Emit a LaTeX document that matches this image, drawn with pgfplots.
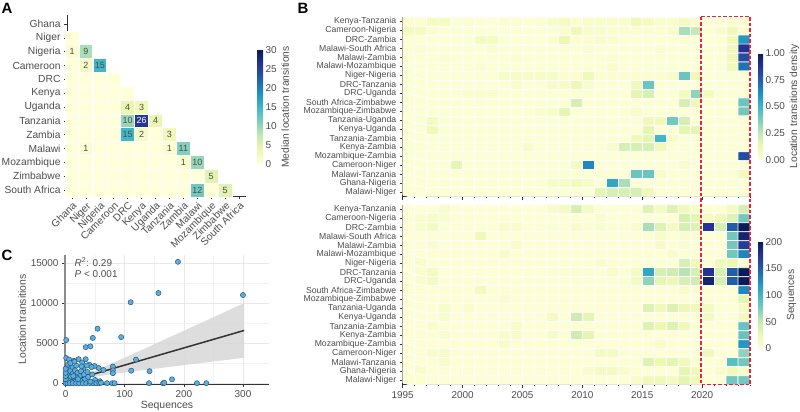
\documentclass[border=0pt]{standalone}
\usepackage{pgfplots}
\pgfplotsset{compat=1.18}
\usepackage{fontspec}
\setmainfont{Liberation Sans}
\definecolor{txt}{HTML}{4D4D4D}
\definecolor{axl}{HTML}{333333}
\definecolor{ptc}{HTML}{5AAEE0}
\definecolor{ptedge}{HTML}{22506F}
\definecolor{boxred}{HTML}{E8243C}
\pgfplotsset{
  colorbar shift/.style={},
  colormap={ylgnbu}{rgb255=(255,255,217) rgb255=(237,248,177) rgb255=(199,233,180) rgb255=(127,205,187) rgb255=(65,182,196) rgb255=(29,145,192) rgb255=(34,94,168) rgb255=(37,52,148) rgb255=(8,29,88)},
  base/.style={scale only axis, anchor=south west,
    /pgf/number format/assume math mode=true,
    tick align=outside,
    axis line style={axl, line width=0.6bp, -},
    tick style={axl, line width=0.6bp},
    major tick length=3bp, minor tick length=1.8bp,
    ticklabel style={font=\fontsize{10}{11}\selectfont, text=txt},
    label style={font=\fontsize{10.5}{12}\selectfont, text=txt},
    colormap name=ylgnbu},
  cbar/.style={colorbar, colorbar style={at={(parent axis.south east)}, anchor=south west,
    scale only axis, /pgf/number format/assume math mode=true,
    axis line style={draw=none}, ytick style={draw=none},
    yticklabel style={font=\fontsize{10}{11}\selectfont, text=txt, xshift=-1bp},
    ylabel style={font=\fontsize{10.3}{12}\selectfont, text=txt, yshift=2bp}}},
  prows/.style={ytick={0,...,19}, yticklabel style={font=\fontsize{8.7}{9}\selectfont},
    yticklabels={Malawi-Niger,Ghana-Nigeria,Malawi-Tanzania,Cameroon-Niger,Mozambique-Zambia,Kenya-Zambia,Tanzania-Zambia,Kenya-Uganda,Tanzania-Uganda,Mozambique-Zimbabwe,South Africa-Zimbabwe,DRC-Uganda,DRC-Tanzania,Niger-Nigeria,Malawi-Mozambique,Malawi-Zambia,Malawi-South Africa,DRC-Zambia,Cameroon-Nigeria,Kenya-Tanzania}},
  heat/.style={matrix plot*, mesh/cols=29, point meta=explicit, shader=faceted, faceted color=white, draw=white, line width=0.7bp}
}
\begin{document}
\begin{tikzpicture}
\useasboundingbox (0,0) rectangle (800bp,412bp);
% ---------------- Panel A ----------------
\begin{axis}[base, at={(67bp,216bp)}, width=179bp, height=181bp,
  xmin=-0.36, xmax=12.5, ymin=-0.43, ymax=12.65,
  axis x line*=bottom, axis y line*=left,
  xtick={0,...,12}, ytick={0,...,12},
  ticklabel style={font=\fontsize{10.3}{11}\selectfont},
  xticklabels={Ghana,Niger,Nigeria,Cameroon,DRC,Kenya,Uganda,Tanzania,Zambia,Malawi,Mozambique,Zimbabwe,South Africa},
  yticklabels={South Africa,Zimbabwe,Mozambique,Malawi,Zambia,Tanzania,Uganda,Kenya,DRC,Cameroon,Nigeria,Niger,Ghana},
  xticklabel style={rotate=45, anchor=north east, inner sep=1.5bp},
  point meta min=0, point meta max=30,
  cbar, colorbar style={xshift=11bp, yshift=32bp, width=6bp, height=114bp, ytick={0,5,...,30}, ylabel={Median location transitions}}]
\addplot[scatter, only marks, mark=square*, mark size=6.9bp, point meta=explicit,
  scatter/use mapped color={draw=white, fill=mapped color}, mark options={line width=0.8bp}]
  table[meta=v] {
x y v
0 11 0
0 10 1
1 10 9
0 9 0
1 9 2
2 9 15
0 8 0
1 8 0
2 8 0
3 8 0
0 7 0
1 7 0
2 7 0
3 7 0
4 7 0
0 6 0
1 6 0
2 6 0
3 6 0
4 6 4
5 6 3
0 5 0
1 5 0
2 5 0
3 5 0
4 5 10
5 5 26
6 5 4
0 4 0
1 4 0
2 4 0
3 4 0
4 4 15
5 4 2
6 4 0
7 4 3
0 3 0
1 3 1
2 3 0
3 3 0
4 3 0
5 3 0
6 3 0
7 3 1
8 3 11
0 2 0
1 2 0
2 2 0
3 2 0
4 2 0
5 2 0
6 2 0
7 2 0
8 2 1
9 2 10
0 1 0
1 1 0
2 1 0
3 1 0
4 1 0
5 1 0
6 1 0
7 1 0
8 1 0
9 1 0
10 1 5
0 0 0
1 0 0
2 0 0
3 0 0
4 0 0
5 0 0
6 0 0
7 0 0
8 0 0
9 0 12
10 0 0
11 0 5
};
\addplot[draw=none, mark=none, nodes near coords, point meta=explicit symbolic,
  every node near coord/.append style={anchor=center, font=\fontsize{9}{10}\selectfont, text=txt, inner sep=0pt}]
  coordinates {(0,10)[1] (1,10)[9] (1,9)[2] (2,9)[15] (4,6)[4] (5,6)[3] (4,5)[10] (6,5)[4]
  (4,4)[15] (5,4)[2] (7,4)[3] (1,3)[1] (7,3)[1] (8,3)[11] (8,2)[1] (9,2)[10] (10,1)[5] (9,0)[12] (11,0)[5]};
\addplot[draw=none, mark=none, nodes near coords, point meta=explicit symbolic,
  every node near coord/.append style={anchor=center, font=\fontsize{9}{10}\selectfont, text=white, inner sep=0pt}]
  coordinates {(5,5)[26]};
\end{axis}
% ---------------- Panel B top ----------------
\begin{axis}[base, at={(402.7bp,215.3bp)}, width=347.3bp, height=179.5bp,
  xmin=1995, xmax=2024, ymin=-0.5, ymax=19.5,
  axis x line*=bottom, axis y line*=left, prows,
  xtick={1995,2000,...,2020}, minor xtick={1995,...,2024}, xticklabels={},
  point meta min=0, point meta max=1,
  cbar, colorbar style={xshift=8bp, yshift=36.7bp, width=5bp, height=107bp, ytick={0,0.25,0.5,0.75,1},
    yticklabel style={/pgf/number format/fixed, /pgf/number format/fixed zerofill, /pgf/number format/precision=2},
    ylabel={Location transitions density}}]
\addplot[heat] table[row sep=\\, header=false, x expr={1995.5+mod(\coordindex,29)}, y expr={19-floor(\coordindex/29)}, meta index=0] {
0.03\\0.03\\0.08\\0.08\\0.02\\0.03\\0.02\\0.02\\0.03\\0.03\\0.02\\0.03\\0.05\\0.08\\0.03\\0.05\\0.05\\0.05\\0.04\\0.1\\0.08\\0.04\\0.04\\0.08\\0.03\\0.02\\0.02\\0.03\\0.03\\
0.08\\0.08\\0.03\\0.02\\0.02\\0.02\\0.02\\0.02\\0.02\\0.02\\0.02\\0.02\\0.02\\0.03\\0.1\\0.05\\0.05\\0.03\\0.03\\0.03\\0.03\\0.03\\0.05\\0.3\\0.25\\0.02\\0.04\\0.1\\0.03\\
0.02\\0.02\\0.02\\0.02\\0.02\\0.02\\0.08\\0.08\\0.02\\0.02\\0.02\\0.02\\0.03\\0.12\\0.03\\0.03\\0.05\\0.03\\0.02\\0.02\\0.02\\0.02\\0.02\\0.03\\0.02\\0.02\\0.02\\0.1\\0.6\\
0.02\\0.03\\0.02\\0.02\\0.02\\0.02\\0.02\\0.03\\0.02\\0.02\\0.02\\0.02\\0.02\\0.02\\0.02\\0.03\\0.02\\0.02\\0.02\\0.02\\0.02\\0.03\\0.02\\0.02\\0.02\\0.02\\0.02\\0.1\\0.88\\
0.02\\0.02\\0.02\\0.03\\0.02\\0.02\\0.02\\0.02\\0.02\\0.03\\0.02\\0.02\\0.02\\0.02\\0.02\\0.02\\0.02\\0.03\\0.02\\0.02\\0.02\\0.02\\0.02\\0.02\\0.02\\0.02\\0.02\\0.1\\0.8\\
0.02\\0.02\\0.02\\0.02\\0.02\\0.02\\0.03\\0.02\\0.02\\0.02\\0.02\\0.02\\0.02\\0.02\\0.02\\0.02\\0.02\\0.05\\0.02\\0.02\\0.02\\0.02\\0.02\\0.02\\0.02\\0.02\\0.02\\0.1\\0.7\\
0.02\\0.02\\0.02\\0.02\\0.02\\0.02\\0.02\\0.02\\0.06\\0.06\\0.06\\0.06\\0.06\\0.03\\0.03\\0.1\\0.03\\0.03\\0.03\\0.03\\0.03\\0.03\\0.05\\0.42\\0.1\\0.02\\0.02\\0.02\\0.02\\
0.02\\0.02\\0.02\\0.02\\0.02\\0.02\\0.02\\0.02\\0.02\\0.05\\0.02\\0.02\\0.06\\0.06\\0.12\\0.05\\0.02\\0.02\\0.02\\0.1\\0.42\\0.02\\0.02\\0.02\\0.02\\0.02\\0.02\\0.02\\0.02\\
0.02\\0.02\\0.02\\0.02\\0.02\\0.04\\0.04\\0.04\\0.02\\0.02\\0.02\\0.02\\0.02\\0.02\\0.02\\0.02\\0.02\\0.02\\0.02\\0.15\\0.2\\0.02\\0.02\\0.08\\0.35\\0.08\\0.02\\0.02\\0.02\\
0.02\\0.02\\0.02\\0.02\\0.02\\0.02\\0.02\\0.02\\0.02\\0.02\\0.02\\0.02\\0.02\\0.02\\0.2\\0.02\\0.02\\0.02\\0.02\\0.02\\0.02\\0.02\\0.02\\0.2\\0.1\\0.02\\0.02\\0.02\\0.42\\
0.02\\0.02\\0.02\\0.02\\0.02\\0.02\\0.02\\0.02\\0.02\\0.02\\0.02\\0.04\\0.05\\0.15\\0.02\\0.02\\0.02\\0.02\\0.02\\0.05\\0.02\\0.02\\0.02\\0.02\\0.02\\0.02\\0.02\\0.02\\0.4\\
0.02\\0.02\\0.08\\0.02\\0.02\\0.02\\0.02\\0.02\\0.02\\0.02\\0.02\\0.02\\0.02\\0.02\\0.02\\0.02\\0.02\\0.02\\0.02\\0.02\\0.1\\0.1\\0.4\\0.2\\0.02\\0.02\\0.02\\0.02\\0.02\\
0.02\\0.02\\0.1\\0.02\\0.02\\0.02\\0.02\\0.02\\0.02\\0.02\\0.02\\0.02\\0.02\\0.02\\0.02\\0.02\\0.02\\0.02\\0.02\\0.02\\0.15\\0.02\\0.02\\0.15\\0.15\\0.02\\0.02\\0.02\\0.02\\
0.02\\0.02\\0.02\\0.02\\0.02\\0.02\\0.02\\0.02\\0.02\\0.02\\0.02\\0.02\\0.02\\0.02\\0.02\\0.02\\0.02\\0.02\\0.02\\0.1\\0.15\\0.5\\0.05\\0.02\\0.02\\0.02\\0.02\\0.02\\0.02\\
0.02\\0.02\\0.02\\0.02\\0.02\\0.02\\0.02\\0.02\\0.02\\0.02\\0.05\\0.02\\0.02\\0.02\\0.02\\0.02\\0.02\\0.05\\0.2\\0.2\\0.2\\0.1\\0.02\\0.02\\0.02\\0.02\\0.02\\0.02\\0.02\\
0.02\\0.02\\0.02\\0.02\\0.02\\0.02\\0.02\\0.02\\0.02\\0.02\\0.02\\0.02\\0.02\\0.02\\0.02\\0.02\\0.02\\0.02\\0.02\\0.02\\0.02\\0.02\\0.02\\0.02\\0.02\\0.02\\0.02\\0.02\\0.8\\
0.02\\0.02\\0.02\\0.02\\0.15\\0.02\\0.02\\0.02\\0.02\\0.02\\0.02\\0.02\\0.02\\0.02\\0.08\\0.65\\0.02\\0.02\\0.02\\0.02\\0.02\\0.02\\0.02\\0.05\\0.02\\0.02\\0.02\\0.02\\0.02\\
0.02\\0.02\\0.02\\0.02\\0.02\\0.02\\0.02\\0.02\\0.02\\0.02\\0.02\\0.02\\0.02\\0.02\\0.02\\0.02\\0.02\\0.02\\0.02\\0.42\\0.42\\0.05\\0.02\\0.02\\0.02\\0.02\\0.02\\0.02\\0.08\\
0.02\\0.02\\0.02\\0.02\\0.02\\0.02\\0.02\\0.02\\0.02\\0.02\\0.02\\0.02\\0.06\\0.06\\0.08\\0.05\\0.02\\0.55\\0.3\\0.02\\0.02\\0.02\\0.02\\0.02\\0.02\\0.02\\0.02\\0.02\\0.02\\
0.02\\0.02\\0.02\\0.02\\0.02\\0.02\\0.02\\0.02\\0.02\\0.02\\0.02\\0.02\\0.02\\0.02\\0.02\\0.02\\0.15\\0.2\\0.2\\0.2\\0.1\\0.02\\0.02\\0.02\\0.02\\0.02\\0.02\\0.02\\0.02\\
};
\end{axis}
% ---------------- Panel B bottom ----------------
\begin{axis}[base, at={(402.7bp,27.3bp)}, width=347.3bp, height=180bp,
  xmin=1995, xmax=2024, ymin=-0.5, ymax=19.5,
  axis x line*=bottom, axis y line*=left, prows,
  xtick={1995,2000,...,2020}, minor xtick={1995,...,2024},
  xticklabel style={font=\fontsize{10}{11}\selectfont, /pgf/number format/set thousands separator={}},
  point meta min=0, point meta max=200,
  cbar, colorbar style={xshift=8bp, yshift=36.4bp, width=5bp, height=106.6bp, ytick={0,50,...,200},
    ylabel={Sequences}}]
\addplot[heat] table[row sep=\\, header=false, x expr={1995.5+mod(\coordindex,29)}, y expr={19-floor(\coordindex/29)}, meta index=0] {
3\\3\\4\\10\\3\\3\\4\\3\\3\\4\\3\\3\\10\\15\\40\\15\\4\\4\\3\\3\\35\\15\\35\\20\\10\\5\\5\\15\\40\\
3\\8\\12\\8\\3\\3\\3\\3\\3\\3\\4\\3\\3\\3\\3\\3\\8\\4\\3\\3\\3\\4\\3\\40\\30\\15\\20\\35\\80\\
3\\10\\15\\4\\3\\3\\4\\3\\10\\10\\4\\4\\5\\4\\10\\5\\8\\5\\5\\10\\60\\35\\15\\40\\35\\175\\40\\150\\200\\
3\\3\\3\\3\\3\\3\\20\\3\\3\\3\\3\\3\\3\\3\\3\\3\\3\\4\\3\\3\\3\\10\\4\\8\\3\\3\\3\\80\\190\\
3\\3\\8\\3\\3\\3\\3\\3\\3\\10\\3\\3\\3\\3\\3\\3\\3\\3\\3\\3\\3\\12\\3\\8\\3\\3\\3\\80\\170\\
3\\3\\3\\3\\3\\3\\3\\3\\10\\3\\3\\3\\3\\3\\3\\3\\3\\3\\3\\3\\3\\3\\8\\3\\3\\3\\3\\80\\130\\
3\\10\\3\\3\\3\\3\\3\\3\\3\\3\\3\\3\\3\\3\\4\\4\\8\\3\\3\\3\\4\\3\\3\\40\\20\\5\\20\\25\\5\\
4\\8\\15\\4\\3\\3\\4\\4\\3\\4\\4\\4\\5\\5\\5\\5\\4\\10\\5\\15\\110\\40\\45\\55\\40\\175\\40\\150\\200\\
4\\8\\15\\3\\3\\3\\3\\3\\3\\4\\4\\4\\4\\4\\5\\4\\4\\5\\5\\15\\70\\30\\25\\40\\45\\190\\40\\150\\200\\
3\\3\\3\\3\\3\\3\\18\\3\\3\\3\\3\\3\\3\\3\\3\\3\\3\\3\\3\\3\\3\\3\\3\\10\\3\\3\\3\\3\\130\\
3\\3\\3\\3\\3\\3\\3\\3\\8\\3\\3\\3\\3\\3\\3\\3\\3\\3\\3\\3\\3\\3\\3\\3\\3\\3\\3\\3\\30\\
3\\3\\3\\10\\3\\8\\3\\3\\3\\3\\3\\3\\3\\3\\3\\3\\3\\3\\3\\4\\35\\20\\35\\25\\20\\15\\4\\4\\15\\
3\\3\\3\\10\\3\\3\\3\\3\\3\\3\\3\\3\\15\\3\\45\\30\\3\\3\\3\\3\\3\\3\\3\\3\\4\\15\\4\\4\\15\\
3\\3\\8\\3\\3\\3\\3\\3\\3\\10\\3\\3\\3\\3\\3\\3\\3\\3\\3\\4\\35\\25\\35\\20\\5\\3\\3\\4\\85\\
3\\3\\3\\8\\3\\3\\3\\3\\10\\10\\3\\3\\12\\3\\45\\30\\3\\3\\3\\3\\3\\3\\3\\3\\3\\3\\3\\3\\85\\
3\\3\\3\\3\\3\\3\\3\\3\\10\\3\\3\\3\\3\\3\\3\\3\\3\\3\\3\\3\\3\\10\\3\\3\\3\\3\\3\\3\\120\\
3\\3\\10\\12\\3\\3\\3\\3\\3\\3\\3\\3\\3\\3\\3\\3\\15\\15\\3\\3\\3\\3\\3\\3\\3\\20\\3\\3\\70\\
3\\3\\3\\10\\3\\3\\3\\3\\3\\3\\3\\3\\3\\3\\3\\3\\3\\3\\3\\5\\35\\25\\30\\20\\5\\3\\5\\90\\80\\
3\\10\\3\\3\\3\\3\\3\\3\\3\\3\\3\\3\\3\\3\\3\\10\\15\\15\\10\\3\\3\\3\\3\\30\\20\\3\\10\\20\\10\\
3\\5\\3\\3\\3\\3\\3\\3\\3\\3\\3\\3\\3\\3\\3\\3\\3\\3\\3\\10\\20\\20\\15\\30\\20\\3\\3\\80\\80\\
};
\end{axis}
% ---------------- Panel C ----------------
\begin{axis}[base, at={(65bp,28bp)}, width=204bp, height=129bp,
  xmin=-1, xmax=344, ymin=-100, ymax=16000,
  axis x line*=bottom, axis y line*=left,
  y axis line style={black!45, line width=1.3bp},
  xtick={0,100,200,300}, ytick={0,5000,10000,15000},
  minor xtick={50,150,250}, minor ytick={2500,7500,12500}, minor tick length=0bp,
  grid=both, major grid style={black!9, line width=0.6bp}, minor grid style={black!5, line width=0.4bp},
  scaled ticks=false, /pgf/number format/set thousands separator={},
  xlabel={Sequences}, ylabel={Location transitions},
  xlabel style={yshift=3bp}, ylabel style={yshift=-2bp}]
\addplot[draw=none, fill=black!15, fill opacity=0.9] coordinates {
(0,600) (15,795) (30,1062) (45,1437) (60,1884) (80,2525) (100,3185) (130,4188) (160,5196) (200,6546) (250,8236) (302,9996)
(302,3170) (250,2704) (200,2254) (160,1892) (130,1616) (100,1335) (80,1139) (60,924) (45,729) (30,462) (15,87) (0,-360)} -- cycle;
\addplot[only marks, mark=*, mark size=2.6bp, mark options={fill=ptc, draw=ptedge, line width=0.45bp}] coordinates {
(190,15150) (157,11250) (110,10100) (300,11000) (54,6800) (46,5650) (94,5750) (1,5380) (34,4500) (42,4600)
(1,3150) (119,2950) (34,3000) (22,3000) (14,2800) (6,2950) (80,2080) (80,1600) (80,1250) (111,1560)
(142,1500) (56,1900) (49,2150) (40,2320) (64,1650) (180,480) (28,2600) (18,2200) (10,2000) (4,1900)
(2,1700) (8,1500) (12,1200) (16,1600) (20,1300) (24,900) (30,1800) (36,2200) (44,2000) (26,1500)
(3,1000) (5,600) (9,800) (14,400) (19,700) (1,300) (2,100) (6,250) (11,150) (17,200)
(25,300) (33,500) (38,800) (45,1100) (50,400) (58,250) (0,0) (3,0) (7,0) (12,0)
(18,0) (23,0) (29,0) (35,0) (41,0) (47,0) (52,0) (57,0) (70,0) (79,0)
(83,0) (141,0) (165,0) (167,50) (222,0) (238,0) (60,50) (4,2300) (31,1100) (21,500)
(13,900) (8,2500) (42,200) (0,500) (0,900) (0,1300) (0,1800) (27,2100) (15,2700) (37,1400)};
\addplot[axl, line width=1.5bp] coordinates {(0,120) (302,6583)};
\node[anchor=west, font=\fontsize{10}{11}\selectfont, text=txt] at (rel axis cs:0.03,0.945) {\textit{R}\textsuperscript{2}: 0.29};
\node[anchor=west, font=\fontsize{10}{11}\selectfont, text=txt] at (rel axis cs:0.03,0.85) {\textit{P} < 0.001};
\end{axis}
% red dashed box
\draw[boxred, line width=1.1bp, dash pattern=on 3.5bp off 2bp] (701bp,395.3bp) rectangle (750bp,27.3bp);
% panel letters
\node[font=\fontsize{15}{15}\selectfont\bfseries] at (7bp,404bp) {A};
\node[font=\fontsize{15}{15}\selectfont\bfseries] at (303bp,404bp) {B};
\node[font=\fontsize{15}{15}\selectfont\bfseries] at (7bp,157bp) {C};
\end{tikzpicture}
\end{document}
